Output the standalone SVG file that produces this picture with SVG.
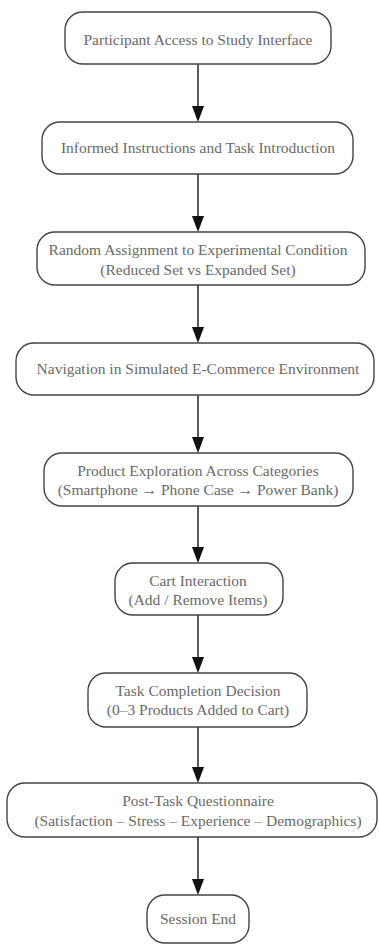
<svg xmlns="http://www.w3.org/2000/svg" width="379" height="945" viewBox="0 0 379 945">
<defs>
<style>
.n rect{fill:#fff;stroke:#444;stroke-width:1.4}
.n text{font-family:"Liberation Serif","Times New Roman",serif;font-size:15.5px;fill:#6a6a6a;text-anchor:middle}
.c line{stroke:#333;stroke-width:1.6}
.c path{fill:#111}
</style>
</defs>
<rect width="379" height="945" fill="#fff"/>
<g id="connectors" class="c">
<line x1="198" y1="64" x2="198" y2="110"/>
<path d="M192,106 L204,106 L198,122 Z"/>
<line x1="198" y1="174" x2="198" y2="220"/>
<path d="M192,216 L204,216 L198,232 Z"/>
<line x1="198" y1="285" x2="198" y2="331"/>
<path d="M192,327 L204,327 L198,343 Z"/>
<line x1="198" y1="395" x2="198" y2="441"/>
<path d="M192,437 L204,437 L198,453 Z"/>
<line x1="198" y1="506" x2="198" y2="551"/>
<path d="M192,547 L204,547 L198,563 Z"/>
<line x1="198" y1="615" x2="198" y2="661"/>
<path d="M192,657 L204,657 L198,673 Z"/>
<line x1="198" y1="727" x2="198" y2="771"/>
<path d="M192,767 L204,767 L198,783 Z"/>
<line x1="198" y1="837" x2="198" y2="883"/>
<path d="M192,879 L204,879 L198,895 Z"/>
</g>
<g id="n1" class="n"><rect x="65" y="12" width="266" height="52" rx="18"/><text x="198" y="45">Participant Access to Study Interface</text></g>
<g id="n2" class="n"><rect x="42" y="122" width="311" height="52" rx="18"/><text x="198" y="153">Informed Instructions and Task Introduction</text></g>
<g id="n3" class="n"><rect x="37" y="232" width="328" height="53" rx="18"/><text x="198" y="255">Random Assignment to Experimental Condition</text><text x="198" y="275">(Reduced Set vs Expanded Set)</text></g>
<g id="n4" class="n"><rect x="16" y="343" width="358" height="52" rx="18"/><text x="198" y="374">Navigation in Simulated E-Commerce Environment</text></g>
<g id="n5" class="n"><rect x="44" y="453" width="309" height="53" rx="18"/><text x="198" y="476">Product Exploration Across Categories</text><text x="198" y="495">(Smartphone → Phone Case → Power Bank)</text></g>
<g id="n6" class="n"><rect x="115" y="563" width="168" height="52" rx="18"/><text x="198" y="586">Cart Interaction</text><text x="198" y="605">(Add / Remove Items)</text></g>
<g id="n7" class="n"><rect x="88" y="673" width="219" height="54" rx="18"/><text x="198" y="696">Task Completion Decision</text><text x="198" y="715">(0–3 Products Added to Cart)</text></g>
<g id="n8" class="n"><rect x="7" y="783" width="370" height="54" rx="18"/><text x="198" y="806">Post-Task Questionnaire</text><text x="198" y="826">(Satisfaction – Stress – Experience – Demographics)</text></g>
<g id="n9" class="n"><rect x="147" y="895" width="102" height="48" rx="18"/><text x="198" y="924">Session End</text></g>
</svg>
